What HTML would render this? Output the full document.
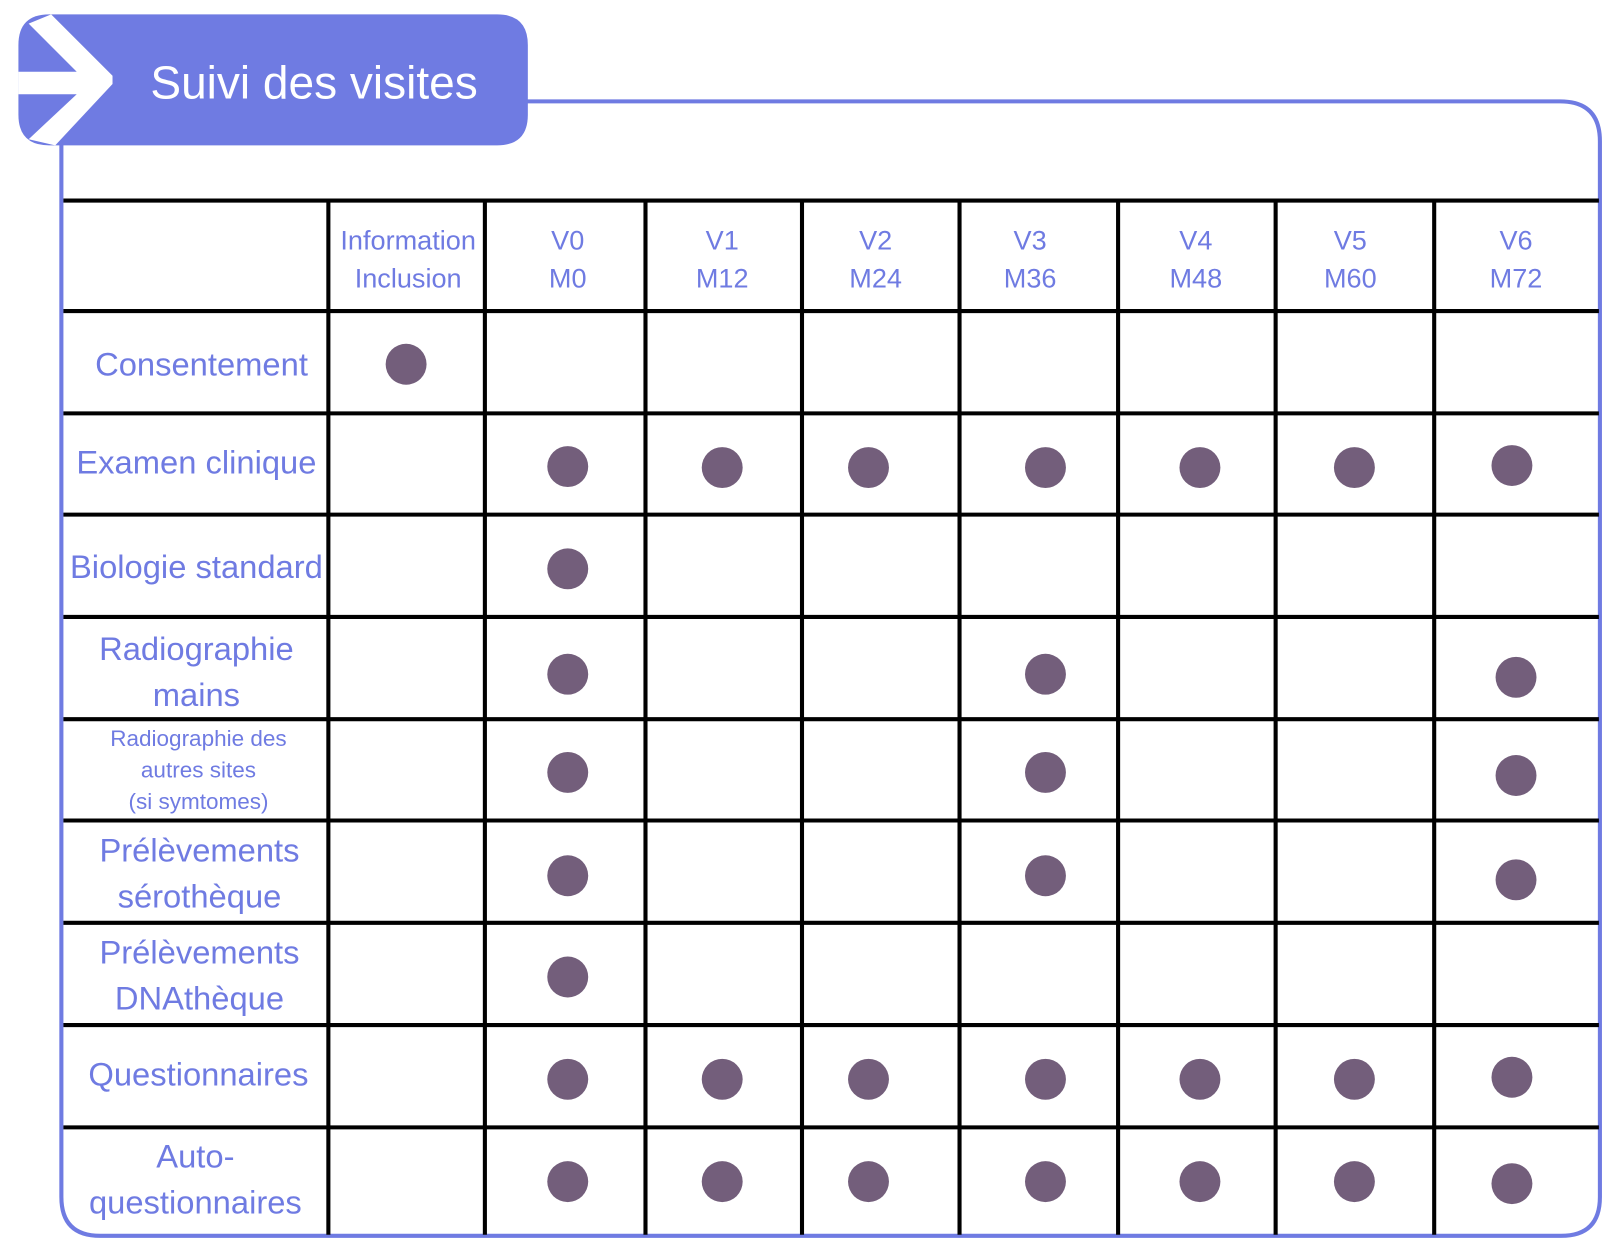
<!DOCTYPE html>
<html><head><meta charset="utf-8"><style>
html,body{margin:0;padding:0;background:#fff;}
svg{display:block;}
text{font-family:"Liberation Sans",sans-serif;}
</style></head><body>
<svg width="1604" height="1240" viewBox="0 0 1568 1212" xmlns="http://www.w3.org/2000/svg">
<rect x="0" y="0" width="1568" height="1212" fill="#fff"/>
<!-- frame -->
<path d="M60 140 L60 1170 Q60 1208 98 1208 L1526 1208 Q1564 1208 1564 1170 L1564 138 Q1564 99 1525 99 L500 99" fill="none" stroke="#6f7be2" stroke-width="4"/>
<!-- tab -->
<path d="M48 14 L486 14 Q516 14 516 44 L516 112 Q516 142 486 142 L48 142 Q18 142 18 112 L18 44 Q18 14 48 14 Z" fill="#6f7be2"/>
<!-- white arrow -->
<polygon points="28,23 50,14 110,74 110,82 54,142 28,136 75,92 18,92 18,70 75,70" fill="#fff"/>
<text x="147" y="96" font-size="45" fill="#fff">Suivi des visites</text>
<!-- grid -->
<g stroke="#000" stroke-width="4">
<line x1="62" y1="196" x2="1563" y2="196"/>
<line x1="62" y1="304" x2="1563" y2="304"/>
<line x1="62" y1="404" x2="1563" y2="404"/>
<line x1="62" y1="503" x2="1563" y2="503"/>
<line x1="62" y1="603" x2="1563" y2="603"/>
<line x1="62" y1="703" x2="1563" y2="703"/>
<line x1="62" y1="802" x2="1563" y2="802"/>
<line x1="62" y1="902" x2="1563" y2="902"/>
<line x1="62" y1="1002" x2="1563" y2="1002"/>
<line x1="62" y1="1102" x2="1563" y2="1102"/>
<line x1="321" y1="196" x2="321" y2="1207"/>
<line x1="474" y1="196" x2="474" y2="1207"/>
<line x1="631" y1="196" x2="631" y2="1207"/>
<line x1="784" y1="196" x2="784" y2="1207"/>
<line x1="938" y1="196" x2="938" y2="1207"/>
<line x1="1093" y1="196" x2="1093" y2="1207"/>
<line x1="1247" y1="196" x2="1247" y2="1207"/>
<line x1="1402" y1="196" x2="1402" y2="1207"/>
</g>
<!-- headers -->
<g fill="#6f7be2" font-size="26.5" text-anchor="middle">
<text x="399" y="244">Information</text><text x="399" y="281">Inclusion</text>
<text x="555" y="244">V0</text><text x="555" y="281">M0</text>
<text x="706" y="244">V1</text><text x="706" y="281">M12</text>
<text x="856" y="244">V2</text><text x="856" y="281">M24</text>
<text x="1007" y="244">V3</text><text x="1007" y="281">M36</text>
<text x="1169" y="244">V4</text><text x="1169" y="281">M48</text>
<text x="1320" y="244">V5</text><text x="1320" y="281">M60</text>
<text x="1482" y="244">V6</text><text x="1482" y="281">M72</text>
</g>
<!-- row labels -->
<g fill="#6f7be2" font-size="32" text-anchor="middle">
<text x="197" y="367">Consentement</text>
<text x="192" y="463">Examen clinique</text>
<text x="192" y="565">Biologie standard</text>
<text x="192" y="645">Radiographie</text><text x="192" y="690">mains</text>
<text x="195" y="842">Prélèvements</text><text x="195" y="887">sérothèque</text>
<text x="195" y="942">Prélèvements</text><text x="195" y="987">DNAthèque</text>
<text x="194" y="1061">Questionnaires</text>
<text x="191" y="1141">Auto-</text><text x="191" y="1186">questionnaires</text>
</g>
<g fill="#6f7be2" font-size="22" text-anchor="middle">
<text x="194" y="729">Radiographie des</text>
<text x="194" y="760">autres sites</text>
<text x="194" y="791">(si symtomes)</text>
</g>
<!-- dots -->
<g fill="#735e7b">
<circle cx="397" cy="356" r="20"/>
<circle cx="555" cy="456" r="20"/><circle cx="706" cy="457" r="20"/><circle cx="849" cy="457" r="20"/><circle cx="1022" cy="457" r="20"/><circle cx="1173" cy="457" r="20"/><circle cx="1324" cy="457" r="20"/><circle cx="1478" cy="455" r="20"/>
<circle cx="555" cy="556" r="20"/>
<circle cx="555" cy="659" r="20"/><circle cx="1022" cy="659" r="20"/><circle cx="1482" cy="662" r="20"/>
<circle cx="555" cy="755" r="20"/><circle cx="1022" cy="755" r="20"/><circle cx="1482" cy="758" r="20"/>
<circle cx="555" cy="856" r="20"/><circle cx="1022" cy="856" r="20"/><circle cx="1482" cy="860" r="20"/>
<circle cx="555" cy="955" r="20"/>
<circle cx="555" cy="1055" r="20"/><circle cx="706" cy="1055" r="20"/><circle cx="849" cy="1055" r="20"/><circle cx="1022" cy="1055" r="20"/><circle cx="1173" cy="1055" r="20"/><circle cx="1324" cy="1055" r="20"/><circle cx="1478" cy="1053" r="20"/>
<circle cx="555" cy="1155" r="20"/><circle cx="706" cy="1155" r="20"/><circle cx="849" cy="1155" r="20"/><circle cx="1022" cy="1155" r="20"/><circle cx="1173" cy="1155" r="20"/><circle cx="1324" cy="1155" r="20"/><circle cx="1478" cy="1157" r="20"/>
</g>
</svg>
</body></html>
